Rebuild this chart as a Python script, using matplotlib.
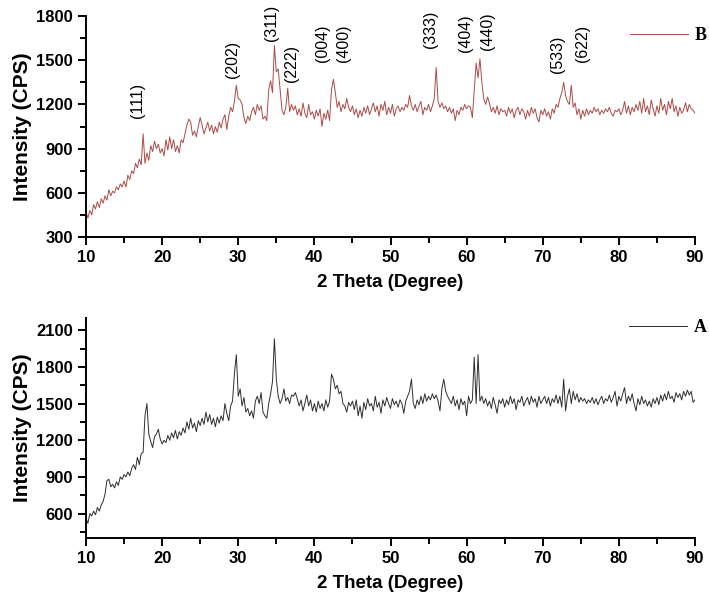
import matplotlib
matplotlib.use("Agg")
import matplotlib.pyplot as plt
from matplotlib.ticker import MultipleLocator
import numpy as np

# 2 theta grid, 0.25 degree step
two_theta = np.linspace(10, 90, 321)

# sample B (upper panel)
intensity_b = [
    470, 430, 480, 450, 520, 490, 540, 500, 560, 530, 580, 550, 620, 580, 610, 600, 640, 620, 660, 640,
    680, 640, 720, 690, 750, 730, 800, 770, 830, 790, 1000, 800, 870, 820, 920, 880, 950, 900, 930, 870,
    900, 850, 960, 890, 980, 900, 960, 880, 920, 870, 960, 940, 1000, 1060, 1100, 1080, 990, 1020, 980, 1050,
    1110, 1060, 1000, 1040, 1080, 1020, 1060, 1000, 1050, 1010, 1080, 1040, 1100, 1130, 1030, 1120, 1180, 1150, 1220, 1330,
    1240, 1230, 1200, 1110, 1070, 1120, 1090, 1150, 1180, 1130, 1200, 1160, 1190, 1100, 1120, 1090, 1300, 1360, 1280, 1600,
    1420, 1440, 1300, 1160, 1130, 1180, 1310, 1150, 1200, 1160, 1190, 1130, 1170, 1120, 1210, 1140, 1110, 1200, 1130, 1150,
    1100, 1160, 1120, 1170, 1050, 1140, 1100, 1160, 1090, 1300, 1370, 1280, 1180, 1220, 1150, 1200, 1170, 1240, 1180, 1150,
    1190, 1130, 1170, 1110, 1160, 1120, 1180, 1140, 1190, 1130, 1170, 1210, 1150, 1190, 1120, 1200, 1160, 1220, 1130, 1180,
    1140, 1200, 1120, 1170, 1190, 1150, 1180, 1160, 1200, 1180, 1260, 1190, 1160, 1200, 1150, 1190, 1220, 1130, 1180, 1160,
    1200, 1150, 1190, 1240, 1450, 1220, 1180, 1210, 1170, 1190, 1150, 1180, 1140, 1170, 1090, 1160, 1130, 1180, 1160, 1200,
    1170, 1190, 1180, 1110, 1300, 1480, 1380, 1510, 1350, 1240, 1200, 1250, 1210, 1150, 1180, 1140, 1190, 1130, 1170, 1150,
    1160, 1120, 1180, 1140, 1170, 1110, 1160, 1180, 1130, 1170, 1150, 1100, 1160, 1120, 1180, 1140, 1170, 1110, 1080, 1160,
    1130, 1170, 1120, 1150, 1100, 1170, 1140, 1200, 1180, 1240, 1280, 1350, 1260, 1220, 1200, 1330, 1180, 1210, 1130, 1170,
    1100, 1160, 1120, 1170, 1130, 1160, 1140, 1180, 1150, 1170, 1130, 1160, 1140, 1170, 1150, 1180, 1140, 1120, 1160, 1150,
    1170, 1130, 1160, 1220, 1140, 1190, 1130, 1180, 1150, 1200, 1160, 1220, 1140, 1240, 1150, 1190, 1130, 1230, 1170, 1120,
    1190, 1140, 1240, 1160, 1200, 1130, 1220, 1170, 1240, 1150, 1190, 1120, 1180, 1140, 1160, 1210, 1150, 1200, 1170, 1160,
    1140,
]

# sample A (lower panel)
intensity_a = [
    560, 520, 600, 580, 620, 590, 650, 620, 670, 700, 760, 870, 880, 820, 840, 810, 860, 830, 900, 880,
    920, 900, 940, 910, 970, 1000, 960, 1060, 1000, 1090, 1100, 1400, 1500, 1250, 1190, 1140, 1230, 1250, 1290, 1210,
    1170, 1200, 1180, 1240, 1200, 1260, 1220, 1280, 1210, 1270, 1240, 1300, 1260, 1350, 1290, 1380, 1300, 1340, 1270, 1360,
    1320, 1380, 1330, 1430, 1350, 1410, 1330, 1380, 1310, 1390, 1340, 1400, 1360, 1500, 1420, 1360, 1480, 1520, 1750, 1900,
    1560, 1620, 1480, 1550, 1430, 1460, 1400, 1440, 1380, 1520, 1560, 1500, 1590, 1430, 1400, 1380, 1500, 1580, 1680, 2030,
    1700, 1560, 1500, 1540, 1620, 1520, 1550, 1500, 1570, 1560, 1590, 1540, 1480, 1530, 1440, 1500, 1570, 1480, 1530, 1440,
    1500, 1430, 1520, 1460, 1500, 1440, 1530, 1470, 1520, 1740, 1700, 1620, 1650, 1580, 1600, 1500, 1480, 1430, 1510, 1480,
    1520, 1450, 1530, 1400, 1480, 1380, 1510, 1450, 1540, 1480, 1500, 1440, 1560, 1470, 1510, 1420, 1530, 1480, 1550, 1500,
    1460, 1540, 1490, 1520, 1470, 1530, 1500, 1420, 1520, 1560, 1600, 1700, 1500, 1460, 1530, 1490, 1560, 1500, 1580, 1520,
    1560, 1530, 1580, 1540, 1570, 1520, 1440, 1620, 1700, 1600, 1560, 1530, 1500, 1560, 1480, 1530, 1450, 1540, 1490, 1520,
    1400, 1560, 1500, 1530, 1880, 1500, 1900, 1520, 1560, 1500, 1540, 1480, 1520, 1460, 1550, 1490, 1420, 1530, 1500, 1540,
    1470, 1530, 1490, 1560, 1500, 1540, 1450, 1530, 1510, 1560, 1480, 1520, 1550, 1490, 1560, 1510, 1540, 1470, 1560, 1500,
    1530, 1560, 1500, 1550, 1480, 1540, 1510, 1570, 1500, 1560, 1470, 1700, 1440, 1560, 1620, 1500, 1600, 1530, 1580, 1510,
    1550, 1520, 1540, 1500, 1530, 1510, 1550, 1500, 1540, 1490, 1530, 1560, 1500, 1540, 1520, 1570, 1510, 1550, 1600, 1480,
    1560, 1520, 1580, 1630, 1500, 1560, 1520, 1580, 1500, 1440, 1540, 1490, 1560, 1500, 1530, 1480, 1520, 1470, 1540, 1500,
    1550, 1490, 1570, 1520, 1580, 1530, 1600, 1540, 1560, 1510, 1590, 1550, 1580, 1530, 1600, 1560, 1610, 1570, 1600, 1510,
    1530,
]

# hkl labels for sample B: position, text, height where text starts
hkl_pos = [16.7, 29.3, 34.4, 37.0, 41.1, 43.8, 55.2, 59.9, 62.7, 72.0, 75.2]
hkl_text = ["(111)", "(202)", "(311)", "(222)", "(004)", "(400)",
            "(333)", "(404)", "(440)", "(533)", "(622)"]
hkl_y = [1110, 1380, 1630, 1350, 1490, 1490, 1580, 1555, 1570, 1410, 1490]

assert len(intensity_a) == len(two_theta) and len(intensity_b) == len(two_theta)

sans = ["Liberation Sans", "DejaVu Sans"]
tick_font = dict(family=sans, weight="bold", size=12)
xlabel_font = dict(family=sans, weight="bold", size=13.5)
ylabel_font = dict(family=sans, weight="bold", size=15)
leg_font = dict(family=["Liberation Serif"], weight="bold", size=13)

fig = plt.figure(figsize=(7.09, 6.08), dpi=100)
ax_b = fig.add_axes([86 / 709, 1 - 237 / 608, 609 / 709, 221 / 608])
ax_a = fig.add_axes([86 / 709, 1 - 538 / 608, 609 / 709, 220 / 608])

ax_b.plot(two_theta, intensity_b, color="#ad4a46", lw=0.7, label="B")
ax_a.plot(two_theta, intensity_a, color="#2e2e2e", lw=0.7, label="A")

for t, s, y in zip(hkl_pos, hkl_text, hkl_y):
    ax_b.text(t, y, s, rotation=90, ha="center", va="bottom",
              family=sans, size=11.5, color="black")

for ax, lo, hi in [(ax_b, 300, 1800), (ax_a, 400, 2200)]:
    ax.set_xlim(10, 90)
    ax.set_ylim(lo, hi)
    ax.xaxis.set_major_locator(MultipleLocator(10))
    ax.xaxis.set_minor_locator(MultipleLocator(5))
    ax.yaxis.set_major_locator(MultipleLocator(300))
    ax.yaxis.set_minor_locator(MultipleLocator(150))
    ax.spines["top"].set_visible(False)
    ax.spines["right"].set_visible(False)
    ax.spines["left"].set_linewidth(1.4)
    ax.spines["bottom"].set_linewidth(1.4)
    ax.tick_params(which="major", direction="out", length=6, width=1.4)
    ax.tick_params(which="minor", direction="out", length=4, width=1.4)
    for lab in ax.get_xticklabels() + ax.get_yticklabels():
        lab.set_fontproperties(matplotlib.font_manager.FontProperties(**tick_font))
    ax.set_xlabel("2 Theta (Degree)", fontdict=xlabel_font, labelpad=6)
    ax.set_ylabel("Intensity (CPS)", fontdict=ylabel_font, labelpad=3)

ax_a.set_yticks([600, 900, 1200, 1500, 1800, 2100])
ax_a.set_yticklabels(["600", "900", "1200", "1500", "1800", "2100"], **tick_font)

ax_b.legend(loc="center right", bbox_to_anchor=(707 / 709, 1 - 36 / 608),
            bbox_transform=fig.transFigure, frameon=False, prop=leg_font,
            handlelength=3.2, borderpad=0, borderaxespad=0, handletextpad=0.4)
ax_a.legend(loc="center right", bbox_to_anchor=(707 / 709, 1 - 328 / 608),
            bbox_transform=fig.transFigure, frameon=False, prop=leg_font,
            handlelength=3.2, borderpad=0, borderaxespad=0, handletextpad=0.4)

fig.savefig("out.png", dpi=100)
